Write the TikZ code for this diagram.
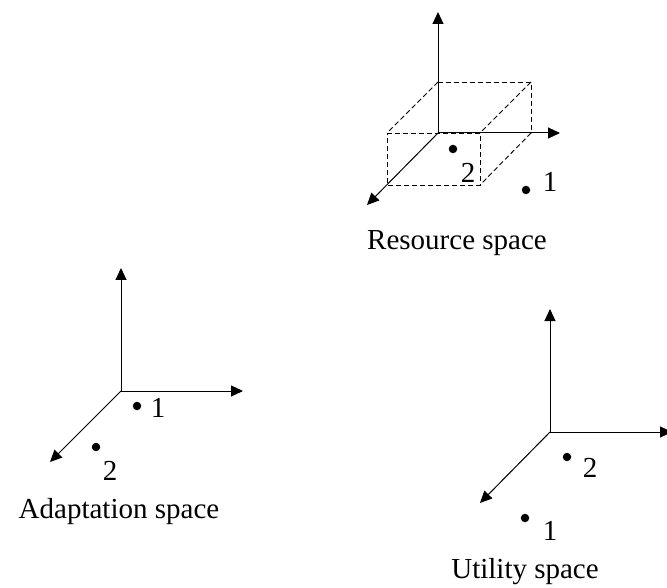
\documentclass[tikz,border=0pt]{standalone}
\usepackage{fontspec}
\setmainfont{Liberation Serif}
\usetikzlibrary{arrows.meta}
\begin{document}
\begin{tikzpicture}[x=1pt,y=-1pt,
  axis/.style={line width=1pt,-{Triangle[length=12pt,width=11pt]}},
  boxline/.style={line width=0.9pt,dash pattern=on 5pt off 3pt},
  pt/.style={circle,fill=black,inner sep=0pt,minimum size=8.5pt},
  lbl/.style={inner sep=0pt,anchor=base,font=\fontsize{29}{34}\selectfont},
  title/.style={inner sep=0pt,anchor=base,font=\fontsize{29}{34}\selectfont}]
\useasboundingbox (0,0) rectangle (667,588);
% ---------- Resource space ----------
\coordinate (rO) at (438,133);
\coordinate (rY) at (438,12);
\coordinate (rX) at (560,133);
\coordinate (rZ) at (367,205);
% cuboid corners
\coordinate (cX) at (531,133);
\coordinate (cY) at (438,82);
\coordinate (cXY) at (531,82);
\coordinate (cZ) at (387,185);
\coordinate (cXZ) at (480,185);
\coordinate (cYZ) at (387,133);
\coordinate (cXYZ) at (480,133);
\draw[boxline] (cY) -- (cXY) -- (cX);
\draw[boxline] (cYZ) -- (cXYZ) -- (cXZ) -- (cZ) -- cycle;
\draw[boxline] (cY) -- (cYZ);
\draw[boxline] (cXY) -- (cXYZ);
\draw[boxline] (cX) -- (cXZ);
\draw[axis] (rO) -- (rY);
\draw[axis] (rO) -- (rX);
\draw[axis] (rO) -- (rZ);
\node[pt] (r2) at (453,149) {};
\node[lbl] (r2l) at (468,183) {2};
\node[pt] (r1) at (526,190) {};
\node[lbl] (r1l) at (550,192) {1};
\node[title] (rt) at (457,250) {Resource space};
% ---------- Adaptation space ----------
\coordinate (aO) at (121,391);
\coordinate (aY) at (121,268);
\coordinate (aX) at (243,391);
\coordinate (aZ) at (50,462);
\draw[axis] (aO) -- (aY);
\draw[axis] (aO) -- (aX);
\draw[axis] (aO) -- (aZ);
\node[pt] (a1) at (137,406) {};
\node[lbl] (a1l) at (158,417) {1};
\node[pt] (a2) at (96,447) {};
\node[lbl] (a2l) at (110,480) {2};
\node[title] (at) at (119,518) {Adaptation space};
% ---------- Utility space ----------
\coordinate (uO) at (550,432);
\coordinate (uY) at (550,309);
\coordinate (uX) at (672,432);
\coordinate (uZ) at (480,503);
\draw[axis] (uO) -- (uY);
\draw[axis] (uO) -- (uX);
\draw[axis] (uO) -- (uZ);
\node[pt] (u2) at (567,457) {};
\node[lbl] (u2l) at (590,477) {2};
\node[pt] (u1) at (525,518) {};
\node[lbl] (u1l) at (550,540) {1};
\node[title] (ut) at (525,578) {Utility space};
\end{tikzpicture}
\end{document}
